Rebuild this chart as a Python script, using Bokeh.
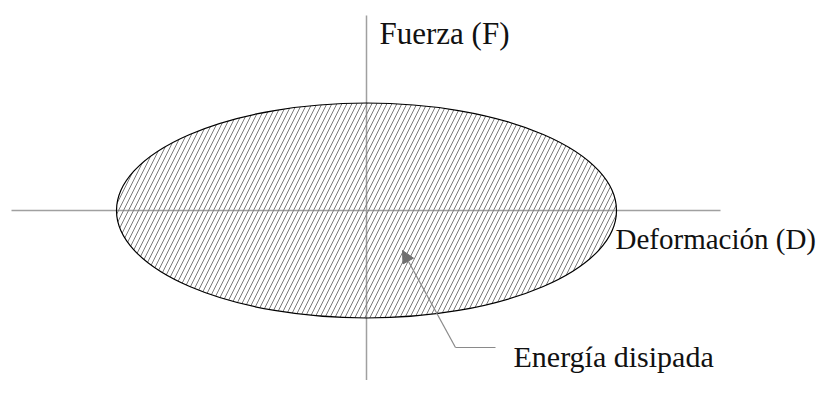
from bokeh.plotting import figure
from bokeh.models import Range1d, Arrow, NormalHead
from bokeh.core.properties import value
from bokeh.embed import file_html
from bokeh.resources import INLINE

# Data (units: pixels relative to axis origin)
ellipse_center = [0, 0]
ellipse_width = 500
ellipse_height = 215

x_axis_x = [-355, 354]
x_axis_y = [0, 0]
y_axis_x = [0, 0]
y_axis_y = [-190, 195]

labels = ["Fuerza (F)", "Deformación (D)", "Energía disipada"]
label_x = [13, 249, 147]
label_y = [177, -28, -146]
label_size = ["31px", "29px", "30px"]

arrow_start = [89, -137]
arrow_end = [36, -40]
leader_x = [89, 129]
leader_y = [-137, -137]

p = figure(width=817, height=380, output_backend="svg", toolbar_location=None,
           x_range=Range1d(-366, 451), y_range=Range1d(-170, 210),
           x_axis_type=None, y_axis_type=None, min_border=0)
p.xgrid.visible = False
p.ygrid.visible = False
p.outline_line_color = None
p.background_fill_color = "white"

p.line(x_axis_x, x_axis_y, line_color="#a0a0a0", line_width=1.5)
p.line(y_axis_x, y_axis_y, line_color="#a0a0a0", line_width=1.5)

p.ellipse(x=[ellipse_center[0]], y=[ellipse_center[1]], width=ellipse_width, height=ellipse_height,
          fill_color=None, hatch_pattern="/", hatch_color="#7a7a7a", hatch_scale=10,
          hatch_weight=1, line_color="black", line_width=1.2)

p.line(leader_x, leader_y, line_color="#8a8a8a", line_width=1.2)
p.add_layout(Arrow(x_start=arrow_start[0], y_start=arrow_start[1], x_end=arrow_end[0], y_end=arrow_end[1],
                   line_color="#8a8a8a", line_width=1.2,
                   end=NormalHead(size=12, fill_color="#707070", line_color="#707070")))

for i in range(3):
    p.text(x=[label_x[i]], y=[label_y[i]], text=[labels[i]], text_font=value("Liberation Serif"),
           text_font_size=label_size[i], text_baseline="alphabetic", text_align="left",
           text_color="#111111")

open("out.html", "w").write(file_html(p, INLINE))
